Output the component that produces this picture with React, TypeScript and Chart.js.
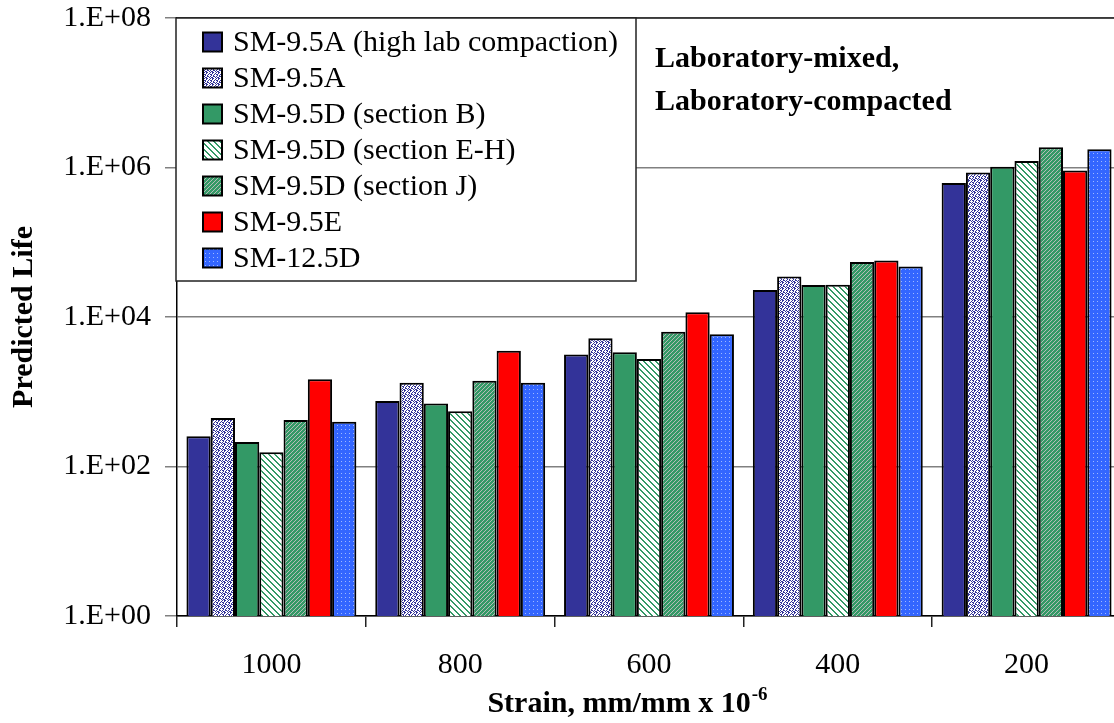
import React, { useEffect, useRef } from 'react';
import { Chart, registerables } from 'chart.js';

Chart.register(...registerables);

const categories = ['1000', '800', '600', '400', '200'];
const seriesLabels = [
  'SM-9.5A (high lab compaction)',
  'SM-9.5A',
  'SM-9.5D (section B)',
  'SM-9.5D (section E-H)',
  'SM-9.5D (section J)',
  'SM-9.5E',
  'SM-12.5D',
];
const sm95aHigh = [253, 750, 3140, 23000, 618000];
const sm95a = [445, 1318, 5180, 34900, 858000];
const sm95dB = [212, 695, 3380, 26800, 1020000];
const sm95dEH = [155, 548, 2740, 27100, 1220000];
const sm95dJ = [418, 1402, 6330, 54300, 1870000];
const sm95e = [1473, 3540, 11590, 57100, 912000];
const sm125d = [396, 1318, 5870, 47500, 1760000];
const yTickValues = [1, 1e2, 1e4, 1e6, 1e8];
const yTickLabels = ['1.E+00', '1.E+02', '1.E+04', '1.E+06', '1.E+08'];
const xTitle = 'Strain, mm/mm x 10';
const xTitleSup = '-6';
const yTitle = 'Predicted Life';
const noteLines = ['Laboratory-mixed,', 'Laboratory-compacted'];

const SERIF = "'Liberation Serif', 'Times New Roman', serif";

function makeTile(w: number, h: number, draw: (c: CanvasRenderingContext2D) => void) {
  const cv = document.createElement('canvas');
  cv.width = w;
  cv.height = h;
  const c = cv.getContext('2d')!;
  draw(c);
  const tmp = document.createElement('canvas').getContext('2d')!;
  return tmp.createPattern(cv, 'repeat')!;
}

function fromRows(rows: string[], bg: string, fg: string) {
  return makeTile(rows[0].length, rows.length, (c) => {
    c.fillStyle = bg;
    c.fillRect(0, 0, rows[0].length, rows.length);
    c.fillStyle = fg;
    rows.forEach((r, y) => {
      for (let x = 0; x < r.length; x++) if (r[x] === 'X') c.fillRect(x, y, 1, 1);
    });
  });
}

function buildFills() {
  const navy = '#333399';
  const green = '#339966';
  const dotted = fromRows(
    ['X.XX..', '..X..X', 'XX..X.', '.X.X..', 'X..XX.', '.XX..X'],
    '#ffffff',
    navy
  );
  const stripes = fromRows(
    ['XX....', '.XX...', '..XX..', '...XX.', '....XX', 'X....X'],
    '#ffffff',
    green
  );
  const fine = fromRows(['XXX.', 'XX.X', 'X.XX', '.XXX'], '#b4bdb8', green);
  const blueDots = fromRows(['....', '.X..', '....', '....'], '#3366ff', '#9fb8ff');
  return [navy, dotted, green, stripes, fine, '#ff0000', blueDots];
}

const decorPlugin = {
  id: 'decor',
  afterDraw(chart: any) {
    const { ctx, chartArea: a } = chart;
    ctx.save();
    // top border of plot
    ctx.strokeStyle = '#222';
    ctx.lineWidth = 1.5;
    ctx.beginPath();
    ctx.moveTo(a.left, a.top);
    ctx.lineTo(a.right, a.top);
    ctx.stroke();

    // legend box
    const bx = a.left - 1;
    const by = a.top;
    const bw = 460;
    const bh = 263;
    ctx.fillStyle = '#ffffff';
    ctx.fillRect(bx, by, bw, bh);
    ctx.strokeStyle = '#222';
    ctx.lineWidth = 1.5;
    ctx.strokeRect(bx, by, bw, bh);
    ctx.font = `30px ${SERIF}`;
    ctx.textAlign = 'left';
    ctx.textBaseline = 'middle';
    chart.data.datasets.forEach((ds: any, i: number) => {
      const cy = by + 24 + i * 36;
      ctx.fillStyle = ds.backgroundColor;
      ctx.fillRect(bx + 27, cy - 9.5, 19, 19);
      ctx.strokeStyle = '#000';
      ctx.lineWidth = 2;
      ctx.strokeRect(bx + 27, cy - 9.5, 19, 19);
      ctx.fillStyle = '#000';
      ctx.fillText(ds.label, bx + 57, cy + 1);
    });

    // note text
    ctx.font = `bold 30px ${SERIF}`;
    ctx.textBaseline = 'alphabetic';
    ctx.fillStyle = '#000';
    noteLines.forEach((t, i) => ctx.fillText(t, 655, 67 + i * 43));

    // y title
    ctx.save();
    ctx.translate(24, (a.top + a.bottom) / 2);
    ctx.rotate(-Math.PI / 2);
    ctx.textAlign = 'center';
    ctx.textBaseline = 'middle';
    ctx.font = `bold 30px ${SERIF}`;
    ctx.fillText(yTitle, 0, 0);
    ctx.restore();

    // x title with superscript
    ctx.font = `bold 30px ${SERIF}`;
    const w1 = ctx.measureText(xTitle).width;
    ctx.font = `bold 19px ${SERIF}`;
    const w2 = ctx.measureText(xTitleSup).width;
    const startX = 627 - (w1 + w2) / 2;
    ctx.textAlign = 'left';
    ctx.textBaseline = 'alphabetic';
    ctx.font = `bold 30px ${SERIF}`;
    ctx.fillText(xTitle, startX, 712);
    ctx.font = `bold 19px ${SERIF}`;
    ctx.fillText(xTitleSup, startX + w1 + 1, 700);
    ctx.restore();
  },
};

export default function App() {
  const ref = useRef<HTMLCanvasElement | null>(null);
  useEffect(() => {
    if (!ref.current) return;
    const fills = buildFills();
    const seriesData = [sm95aHigh, sm95a, sm95dB, sm95dEH, sm95dJ, sm95e, sm125d];
    const chart = new Chart(ref.current, {
      type: 'bar',
      data: {
        labels: categories,
        datasets: seriesData.map((d, i) => ({
          label: seriesLabels[i],
          data: d,
          backgroundColor: fills[i] as any,
          borderColor: '#000000',
          borderWidth: 2,
          categoryPercentage: 0.9,
          barPercentage: 1.0,
        })),
      },
      options: {
        animation: false,
        responsive: false,
        devicePixelRatio: 1,
        layout: { padding: { top: 18, left: 0, right: 1, bottom: 0 } },
        plugins: {
          legend: { display: false },
          tooltip: { enabled: false },
          title: { display: false },
        },
        scales: {
          x: {
            type: 'category',
            grid: {
              offset: true,
              drawOnChartArea: false,
              drawTicks: true,
              tickLength: 11,
              color: '#222',
              lineWidth: 1.5,
            },
            border: { display: true, color: '#000', width: 1.5 },
            ticks: {
              color: '#000',
              font: { family: SERIF, size: 30 },
              padding: 20,
              maxRotation: 0,
              autoSkip: false,
            },
            afterFit: (s: any) => {
              s.height = 107;
              s.paddingLeft = 0;
              s.paddingRight = 0;
            },
          },
          y: {
            type: 'logarithmic',
            min: 1,
            max: 1e8,
            afterBuildTicks: (s: any) => {
              s.ticks = yTickValues.map((v) => ({ value: v, major: true }));
            },
            grid: {
              color: '#808080',
              lineWidth: 1.5,
              tickLength: 12,
              drawTicks: true,
            },
            border: { display: true, color: '#000', width: 1.5 },
            ticks: {
              color: '#000',
              font: { family: SERIF, size: 30 },
              padding: 14,
              callback: (_v: any, i: number) => yTickLabels[i],
            },
            afterFit: (s: any) => {
              s.width = 177;
              s.paddingTop = 0;
              s.paddingBottom = 0;
            },
          },
        },
      },
      plugins: [decorPlugin],
    });
    return () => chart.destroy();
  }, []);
  return (
    <div
      style={{
        position: 'fixed',
        left: 0,
        top: 0,
        width: 1114,
        height: 723,
        overflow: 'hidden',
        background: '#fff',
      }}
    >
      <canvas ref={ref} width={1122} height={723} style={{ display: 'block' }} />
    </div>
  );
}
